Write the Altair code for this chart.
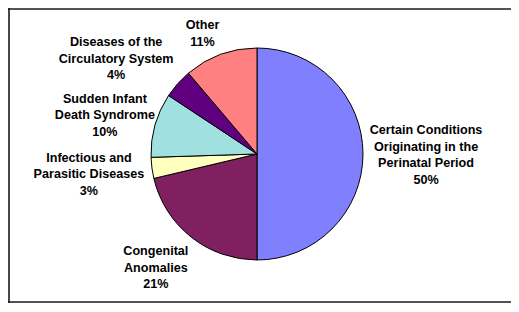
import altair as alt
import pandas as pd

categories = [
    "Certain Conditions Originating in the Perinatal Period",
    "Congenital Anomalies",
    "Infectious and Parasitic Diseases",
    "Sudden Infant Death Syndrome",
    "Diseases of the Circulatory System",
    "Other",
]
label_lines = [
    ["Certain Conditions", "Originating in the", "Perinatal Period"],
    ["Congenital", "Anomalies"],
    ["Infectious and", "Parasitic Diseases"],
    ["Sudden Infant", "Death Syndrome"],
    ["Diseases of the", "Circulatory System"],
    ["Other"],
]
shares = [50.0, 21.3, 3.2, 9.8, 4.5, 11.2]
pct_labels = ["50%", "21%", "3%", "10%", "4%", "11%"]
colors = ["#8080FF", "#802060", "#FFFFC0", "#A0E0E0", "#600080", "#FF8080"]

df = pd.DataFrame({
    "category": categories,
    "share": shares,
    "order": list(range(len(categories))),
    "label": ["\n".join(l + [p]) for l, p in zip(label_lines, pct_labels)],
    "nlines": [len(l) + 1 for l in label_lines],
    "maxchars": [max(len(s) for s in l) for l in label_lines],
})

base = alt.Chart(df)

pie = base.mark_arc(outerRadius=106, stroke="black", strokeWidth=1).encode(
    theta=alt.Theta("share:Q", stack=True),
    color=alt.Color("category:N", scale=alt.Scale(domain=categories, range=colors), legend=None),
    order=alt.Order("order:Q"),
)

labels = base.transform_window(
    cum="sum(share)", sort=[alt.SortField("order")], frame=[None, 0]
).transform_joinaggregate(
    total="sum(share)"
).transform_calculate(
    mid="datum.cum - datum.share/2"
).transform_calculate(
    ang="2*PI*datum.mid/datum.total"
).mark_text(
    radius=112,
    font="Liberation Sans",
    fontWeight="bold",
    fontSize=12.6,
    lineBreak="\n",
    lineHeight=16.6,
    align="center",
    baseline="middle",
    color="black",
    dx={"expr": "clamp(sin(datum.ang)/0.3, -1, 1)*datum.maxchars*3.17"},
    dy={"expr": "-(datum.nlines-1)*8.3 - clamp(cos(datum.ang)/0.75, -1, 1)*datum.nlines*8.3 + 1"},
).encode(
    theta=alt.Theta("mid:Q", stack=False),
    text="label:N",
)

frame_data = alt.Chart(pd.DataFrame({"f": [0]}))
frame_style = dict(stroke="#1a1a1a", strokeWidth=1.6)
frame_left = frame_data.mark_rule(**frame_style).encode(
    x=alt.value(1), y=alt.value(0), y2=alt.value(295)
)
frame_top = frame_data.mark_rule(**frame_style).encode(
    x=alt.value(0), x2=alt.value(530), y=alt.value(1)
)
frame_bottom = frame_data.mark_rule(**frame_style).encode(
    x=alt.value(0), x2=alt.value(530), y=alt.value(294)
)

chart = alt.layer(pie, labels, frame_left, frame_top, frame_bottom).properties(
    width=498,
    height=292,
    autosize="none",
    padding={"left": 0, "top": 0, "right": 5, "bottom": 3},
    background="white",
).configure_view(strokeWidth=0)

chart.save("out.html", embed_options={"renderer": "svg", "actions": False})
